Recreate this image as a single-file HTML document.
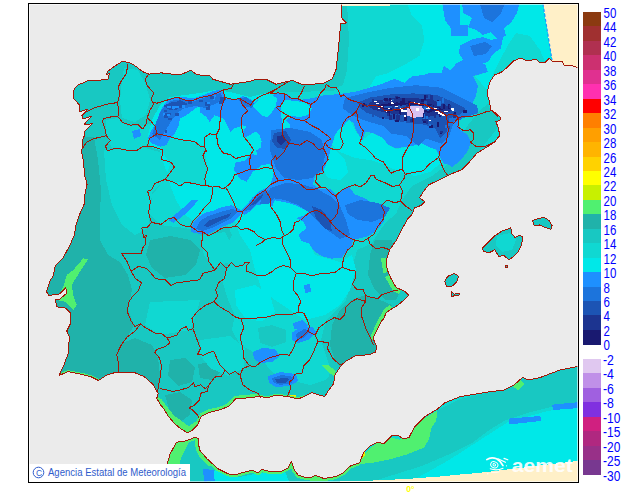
<!DOCTYPE html>
<html><head><meta charset="utf-8"><title>Temperatura</title>
<style>html,body{margin:0;padding:0;background:#fff;width:630px;height:500px;overflow:hidden;font-family:"Liberation Sans",sans-serif}</style>
</head><body>
<svg width="630" height="500" viewBox="0 0 630 500" style="position:absolute;left:0;top:0">
<defs><clipPath id="land">
<polygon points="342.0,4.0 341.3,17.5 346.5,23.0 340.9,23.6 340.6,25.0 339.4,38.0 336.8,63.5 335.9,70.3 332.0,79.2 324.4,83.0 311.7,84.3 301.6,84.3 292.7,80.5 286.3,81.7 276.2,84.3 266.0,79.2 257.1,79.2 248.3,81.7 230.5,84.3 212.7,79.2 209.8,75.4 197.1,74.9 190.8,70.3 181.9,74.1 171.7,74.1 161.6,72.9 148.9,74.1 142.5,71.6 136.2,66.5 129.8,62.7 122.2,61.4 115.0,66.0 108.0,71.0 106.0,75.0 109.5,73.5 108.0,79.0 101.0,80.0 95.0,81.0 89.0,80.0 85.0,82.0 78.0,85.0 75.0,88.0 73.0,92.0 73.0,98.0 77.0,102.0 80.0,106.0 79.0,112.0 83.5,110.5 88.0,109.0 82.5,115.0 83.0,119.0 87.5,117.5 92.0,116.0 86.0,122.0 84.0,125.0 88.5,124.5 93.0,123.0 87.0,129.0 84.0,132.0 85.0,134.0 83.0,139.0 82.0,149.0 81.6,151.6 83.3,160.0 84.6,175.2 87.1,184.1 84.6,195.6 84.6,203.2 79.5,214.6 75.7,226.0 74.4,234.9 69.4,246.3 63.0,257.8 55.4,265.4 52.9,276.8 50.3,280.2 46.5,291.6 49.0,295.4 59.2,294.1 65.6,287.8 67.0,293.0 60.0,299.0 55.5,300.0 56.7,306.8 65.6,308.1 70.6,313.2 70.6,323.3 66.8,331.0 69.4,337.3 68.1,353.8 64.3,364.0 59.2,375.4 68.1,371.6 80.8,374.1 91.0,376.7 98.6,380.5 106.2,375.4 113.8,372.9 120.2,372.4 134.1,372.4 144.3,376.7 153.0,384.4 158.1,393.3 156.8,398.4 160.6,404.8 164.4,409.8 168.3,416.2 174.6,423.8 181.0,428.9 187.3,432.7 192.4,430.2 197.5,425.1 201.3,416.2 208.9,412.4 220.3,409.8 229.2,406.0 235.6,398.9 247.0,397.9 259.7,396.4 267.6,397.8 275.2,395.2 288.0,396.5 298.0,399.0 304.4,396.5 312.0,392.7 319.7,395.2 324.8,396.5 328.6,390.2 333.6,383.8 334.9,374.9 340.0,367.3 346.3,361.0 355.2,355.9 369.2,354.6 375.6,352.0 376.8,347.0 373.0,338.1 378.1,327.9 381.9,320.3 383.5,319.4 386.0,313.0 391.1,309.2 397.5,305.4 403.8,300.3 408.9,295.2 405.1,291.4 396.2,287.6 391.1,278.7 387.3,269.8 386.0,261.0 389.8,249.5 396.2,240.6 401.3,230.5 407.6,219.0 412.0,214.3 414.6,207.9 421.0,205.4 424.8,201.6 419.7,197.8 423.5,191.4 428.6,185.0 438.7,180.0 448.9,174.9 461.6,169.8 469.2,162.2 476.8,153.3 487.0,147.0 494.6,141.9 499.7,135.6 498.4,127.9 495.9,121.6 499.7,120.3 501.0,117.8 497.1,114.0 490.8,110.2 489.5,101.6 487.0,94.0 489.5,82.5 494.6,74.9 501.0,72.4 507.3,67.3 513.6,61.0 520.0,57.9 526.3,60.4 536.5,59.7 539.0,62.2 545.4,62.2 549.2,58.4 551.7,61.0 561.9,61.0 564.4,65.5 572.0,65.5 580.0,68.6 580.0,2.0 342.0,2.0"/>
<polygon points="160.0,485.0 167.0,465.0 170.2,453.7 176.5,442.3 185.4,441.0 195.6,437.2 198.1,438.5 199.4,449.9 207.0,458.8 218.4,469.0 228.6,474.0 236.2,474.6 246.3,471.5 252.7,470.2 257.8,472.8 261.6,469.5 271.7,472.0 281.9,471.0 288.3,467.7 291.3,461.3 294.6,470.2 298.4,475.3 307.3,477.9 310.2,477.9 315.2,475.3 324.1,478.6 335.6,476.6 343.2,472.8 349.5,466.4 359.7,462.6 363.5,452.5 369.8,446.1 377.5,442.3 383.8,443.6 391.4,436.0 397.8,435.4 404.1,439.0 409.2,437.2 414.3,427.1 424.4,416.9 437.1,409.3 444.8,402.9 447.6,401.7 460.3,396.6 475.6,394.0 490.8,391.5 503.5,390.2 513.7,385.2 522.5,377.5 528.9,380.0 540.3,377.5 546.7,375.0 560.0,370.0 580.0,366.0 580.0,485.0"/>
<polygon points="482.2,248.4 488.6,242.1 494.9,235.7 502.5,230.6 507.6,229.4 510.9,227.6 511.4,233.2 515.2,237.7 519.0,235.2 522.9,237.0 521.6,244.6 517.8,252.2 512.7,257.3 508.9,259.8 503.8,255.5 498.7,256.5 494.9,249.7 488.6,253.0 483.5,251.0"/>
<polygon points="532.5,220.5 539.4,218.4 544.4,217.4 549.5,221.0 552.1,225.6 550.8,229.4 545.7,227.6 539.4,225.0 534.3,225.6"/>
<polygon points="444.6,281.4 447.9,276.3 454.3,273.3 458.6,276.3 456.8,281.9 451.7,286.5 446.7,286.5"/>
<polygon points="451.7,291.6 454.3,294.1 459.4,293.6 459.4,295.0 453.5,296.0 451.7,296.7"/>
<polygon points="505.5,265.5 507.2,265.5 507.2,267.2 505.5,267.2"/>
</clipPath><clipPath id="frame"><rect x="29" y="4" width="549" height="478"/></clipPath></defs>
<rect x="0" y="0" width="630" height="500" fill="#ffffff"/>
<rect x="28.5" y="3.5" width="550" height="479" fill="#ebebeb" stroke="#000" stroke-width="1"/>
<g clip-path="url(#frame)">
<g clip-path="url(#land)" shape-rendering="crispEdges">
<rect x="29" y="4" width="549" height="478" fill="#10d8d2"/>
<polygon points="60.0,50.0 345.0,50.0 345.0,90.0 300.0,92.0 270.0,92.0 250.0,97.0 230.0,92.0 215.0,90.0 200.0,93.0 185.0,95.0 170.0,97.0 160.0,105.0 152.0,120.0 148.0,135.0 150.0,147.0 160.0,150.0 163.0,162.0 168.0,175.0 160.0,185.0 152.0,195.0 150.0,215.0 160.0,225.0 185.0,228.0 200.0,232.0 215.0,228.0 228.0,226.0 232.0,235.0 225.0,250.0 228.0,265.0 222.0,280.0 228.0,300.0 235.0,315.0 232.0,330.0 240.0,345.0 250.0,350.0 262.0,360.0 272.0,372.0 290.0,380.0 310.0,385.0 325.0,380.0 335.0,370.0 330.0,400.0 150.0,440.0 40.0,400.0 40.0,50.0" fill="#18c8c2" />
<polygon points="500.0,95.0 480.0,110.0 468.0,125.0 458.0,140.0 447.0,165.0 432.0,176.0 412.0,186.0 402.0,200.0 396.0,214.0 386.0,222.0 379.0,232.0 371.0,244.0 357.0,250.0 353.0,265.0 351.0,285.0 346.0,300.0 336.0,310.0 326.0,320.0 321.0,340.0 326.0,355.0 331.0,370.0 326.0,385.0 321.0,400.0 420.0,400.0 420.0,300.0 440.0,200.0 520.0,100.0" fill="#18c8c2" />
<polygon points="335.0,2.0 406.7,2.0 411.7,15.0 421.9,25.4 424.4,40.6 419.4,55.9 406.7,63.5 396.5,68.6 386.3,73.7 376.2,76.2 366.0,83.8 358.4,86.4 345.0,92.0 335.0,92.0" fill="#10d8d2" />
<polygon points="516.0,33.0 526.3,30.5 536.5,35.6 544.0,45.7 552.0,62.0 536.5,62.0 521.3,60.0 513.7,63.0 507.3,69.0 501.0,74.0 494.6,77.0 490.0,85.0 486.0,95.0 490.0,110.0 500.0,120.0 494.0,100.0 492.0,85.0 498.4,63.5 506.0,50.8 511.0,40.6" fill="#10d8d2" />
<polygon points="322.1,488.0 361.7,460.2 373.7,458.3 389.5,454.3 405.4,448.3 421.3,442.4 427.2,434.4 429.2,424.5 435.2,418.6 437.1,410.6 461.0,398.7 488.7,392.8 516.5,380.9 552.2,369.0 584.0,363.0 584.0,402.7 552.2,406.7 528.4,412.6 504.6,420.6 488.7,430.5 472.9,442.4 449.0,454.3 421.3,466.2 389.5,476.1 353.8,488.0" fill="#18c8c2" />
<polygon points="165.0,483.0 170.0,453.0 176.0,441.0 198.0,436.0 201.0,450.0 208.0,459.0 219.0,470.0 237.0,476.0 262.0,471.0 290.0,468.0 292.0,460.0 296.0,472.0 300.0,478.0 330.0,480.0 330.0,485.0 160.0,485.0" fill="#18c8c2" />
<polygon points="124.0,68.0 138.0,70.0 146.0,85.0 150.0,100.0 146.0,115.0 135.0,122.0 122.0,118.0 120.0,100.0 122.0,80.0" fill="#10d8d2" />
<polygon points="106.0,120.0 118.0,118.0 128.0,126.0 140.0,126.0 150.0,124.0 154.0,134.0 146.0,146.0 130.0,150.0 112.0,148.0 106.0,135.0" fill="#10d8d2" />
<polygon points="104.0,150.0 145.0,148.0 160.0,152.0 165.0,165.0 170.0,172.0 162.0,182.0 152.0,192.0 150.0,215.0 148.0,228.0 135.0,235.0 122.0,225.0 112.0,205.0 106.0,180.0" fill="#10d8d2" />
<polygon points="440.0,210.0 560.0,210.0 560.0,300.0 440.0,300.0" fill="#18c8c2" />
<polygon points="497.0,236.0 510.0,233.0 516.0,240.0 512.0,250.0 502.0,252.0 496.0,245.0" fill="#10d8d2" />
<polygon points="40.0,137.0 94.0,137.0 98.0,160.0 101.0,190.0 100.0,215.0 100.0,240.0 108.0,255.0 120.0,262.0 128.0,275.0 132.0,290.0 128.0,310.0 134.0,325.0 128.0,336.0 120.0,346.0 117.0,357.0 121.0,375.0 110.0,385.0 40.0,385.0" fill="#20b2aa" />
<polygon points="150.0,240.0 170.0,236.0 190.0,240.0 200.0,250.0 196.0,265.0 185.0,275.0 165.0,278.0 152.0,268.0 146.0,255.0" fill="#20b2aa" />
<polygon points="118.0,345.0 135.0,338.0 152.0,345.0 158.0,358.0 160.0,375.0 157.0,392.0 140.0,380.0 118.0,375.0" fill="#20b2aa" />
<polygon points="170.0,360.0 185.0,358.0 195.0,368.0 192.0,382.0 178.0,386.0 168.0,376.0" fill="#20b2aa" />
<polygon points="198.0,364.0 212.0,362.0 220.0,372.0 212.0,380.0 200.0,378.0" fill="#20b2aa" />
<polygon points="165.0,395.0 180.0,392.0 192.0,400.0 190.0,415.0 180.0,422.0 170.0,412.0" fill="#20b2aa" />
<polygon points="352.0,300.0 365.0,295.0 380.0,300.0 392.0,305.0 386.0,320.0 379.0,335.0 379.0,350.0 365.0,357.0 350.0,359.0 340.0,367.0 335.0,360.0 330.0,345.0 332.0,325.0 340.0,310.0" fill="#20b2aa" />
<polygon points="375.0,240.0 392.0,240.0 394.0,250.0 389.0,262.0 391.0,280.0 401.0,290.0 396.0,300.0 385.0,300.0 375.0,290.0 368.0,275.0 370.0,255.0" fill="#20b2aa" />
<polygon points="335.0,2.0 347.0,2.0 349.0,40.0 347.0,70.0 343.0,85.0 335.0,88.0" fill="#18c8c2" />
<polygon points="170.0,97.0 185.0,95.0 200.0,93.0 215.0,90.0 230.0,92.0 250.0,97.0 270.0,92.0 300.0,100.0 300.0,200.0 290.0,215.0 260.0,205.0 245.0,212.0 232.0,217.0 215.0,228.0 200.0,232.0 195.0,222.0 185.0,215.0 176.0,200.0 170.0,185.0 168.0,175.0 163.0,162.0 160.0,150.0 150.0,147.0 148.0,135.0 152.0,120.0 160.0,105.0" fill="#00e8e8" />
<polygon points="156.0,136.0 185.0,141.0 204.0,146.0 207.0,165.0 205.0,185.0 185.0,183.0 165.0,180.0 170.0,165.0 162.0,150.0" fill="#10d8d2" />
<polygon points="132.0,131.0 140.0,129.0 141.0,136.0 134.0,139.0" fill="#1e90ff" />
<polygon points="245.0,205.0 270.0,200.0 300.0,205.0 310.0,215.0 305.0,235.0 315.0,255.0 340.0,262.0 352.0,255.0 356.0,270.0 350.0,290.0 340.0,305.0 325.0,315.0 305.0,320.0 290.0,310.0 275.0,300.0 262.0,290.0 255.0,270.0 250.0,250.0 240.0,235.0 235.0,220.0" fill="#00e8e8" />
<polygon points="200.0,236.0 225.0,232.0 232.0,245.0 228.0,262.0 215.0,268.0 204.0,255.0" fill="#10d8d2" />
<polygon points="235.0,290.0 255.0,285.0 270.0,295.0 275.0,312.0 262.0,322.0 245.0,318.0 236.0,305.0" fill="#00e8e8" />
<polygon points="250.0,325.0 270.0,318.0 290.0,322.0 305.0,330.0 312.0,345.0 300.0,358.0 282.0,362.0 262.0,358.0 250.0,345.0" fill="#10d8d2" />
<polygon points="258.0,328.0 272.0,325.0 286.0,330.0 286.0,342.0 272.0,347.0 260.0,343.0" fill="#18c8c2" />
<polygon points="150.0,302.0 200.0,300.0 196.0,315.0 190.0,330.0 160.0,335.0 145.0,325.0" fill="#10d8d2" />
<polygon points="200.0,340.0 230.0,336.0 245.0,348.0 244.0,368.0 228.0,376.0 210.0,368.0 200.0,355.0" fill="#10d8d2" />
<polygon points="338.0,128.0 350.0,120.0 356.0,132.0 362.0,140.0 372.0,133.0 383.0,138.0 388.0,145.0 396.0,149.0 413.0,146.0 421.0,143.0 436.0,150.0 442.0,162.0 430.0,172.0 415.0,176.0 400.0,172.0 385.0,165.0 370.0,160.0 355.0,158.0 340.0,152.0 332.0,145.0" fill="#00e8e8" />
<polygon points="325.0,150.0 335.0,150.0 345.0,160.0 348.0,172.0 340.0,180.0 328.0,178.0 322.0,168.0" fill="#00e8e8" />
<polygon points="406.7,2.0 545.0,2.0 552.0,62.0 545.0,62.0 540.0,50.0 530.0,36.0 516.0,33.0 508.0,45.0 500.0,60.0 492.0,76.0 487.0,90.0 475.0,76.0 488.0,72.0 485.0,64.0 470.0,62.0 456.0,64.0 450.0,70.0 444.0,66.0 441.6,72.5 422.2,75.1 412.1,76.3 404.4,82.7 394.3,78.9 381.6,84.0 368.9,87.8 376.2,76.2 386.3,73.7 396.5,68.6 406.7,63.5 419.4,55.9 424.4,40.6 421.9,25.4 411.7,15.0" fill="#00e8e8" />
<polygon points="582.0,404.0 544.0,412.0 508.0,422.0 480.0,440.0 449.0,460.0 417.0,478.0 400.0,485.0 582.0,485.0" fill="#00e8e8" />
<polygon points="215.0,470.0 240.0,477.0 260.0,473.0 285.0,472.0 290.0,483.0 210.0,483.0" fill="#00e8e8" />
<polygon points="147.7,138.3 151.7,130.0 156.7,121.7 160.0,111.7 165.0,103.3 170.0,98.3 180.0,96.7 193.3,98.3 203.3,95.0 211.7,91.7 220.0,89.5 224.0,93.0 224.0,99.0 238.0,99.0 243.0,96.0 250.0,99.0 254.0,103.0 258.0,100.0 264.0,97.0 272.0,95.0 278.0,93.0 287.0,94.0 292.0,98.0 300.0,100.0 313.0,98.0 323.2,95.4 338.4,94.1 356.2,91.6 368.9,87.8 381.6,84.0 394.3,78.9 404.4,82.7 412.1,76.3 422.2,75.1 432.4,72.5 441.6,72.5 444.0,66.0 450.0,70.0 456.0,64.0 470.0,62.0 485.0,64.0 488.0,72.0 473.0,76.0 478.0,86.0 475.6,96.5 470.5,106.7 472.0,112.0 462.0,116.0 458.0,122.0 459.0,129.0 467.4,134.5 471.2,142.1 467.4,151.7 459.8,161.2 452.1,166.9 446.4,163.5 443.8,163.5 438.7,154.6 436.2,149.5 428.6,147.0 421.0,143.2 413.3,145.7 404.4,147.0 395.6,148.3 387.9,144.4 382.9,138.1 372.7,133.0 365.1,131.7 362.5,139.8 356.2,131.0 353.7,123.3 348.6,119.5 343.5,125.9 338.4,129.7 334.6,136.0 330.8,148.7 328.3,158.9 323.2,171.6 315.6,174.1 313.0,184.3 320.6,189.4 330.0,188.6 335.7,194.3 341.4,190.5 349.0,186.7 354.8,194.3 364.3,198.1 373.8,203.8 377.6,209.5 383.3,215.2 384.3,221.0 379.5,226.7 373.8,232.4 368.1,236.2 360.5,238.1 352.9,240.0 351.0,247.6 347.0,251.0 341.9,257.5 331.7,258.7 321.6,256.2 314.0,251.0 308.9,243.5 301.3,241.0 298.7,234.6 306.3,228.3 303.8,221.9 296.2,218.1 303.8,215.6 308.9,211.7 303.8,209.2 296.2,205.4 288.6,202.9 281.0,201.6 274.6,200.3 272.1,206.7 269.5,201.6 263.2,204.1 256.2,205.2 250.5,211.0 244.8,214.8 241.0,212.9 239.0,216.7 233.3,222.4 223.8,226.2 216.2,230.0 208.6,233.8 199.0,233.8 190.5,231.9 193.3,222.4 199.0,216.7 204.8,212.9 212.4,211.0 221.9,207.1 231.4,205.2 235.2,207.1 241.0,210.0 246.7,205.2 252.4,197.6 260.0,191.0 269.8,185.9 272.1,179.2 274.6,169.0 269.5,164.0 261.9,165.2 253.0,171.6 246.7,181.7 240.3,179.2 234.0,170.3 235.2,162.7 244.0,161.0 252.0,154.0 257.6,155.4 256.0,150.6 260.8,147.4 261.6,141.0 259.2,134.6 256.0,131.4 252.8,133.0 248.0,136.2 244.0,137.8 243.2,131.4 246.4,126.6 240.8,125.0 240.0,126.6 234.4,128.2 230.4,132.2 227.2,125.0 224.0,119.4 220.0,117.0 219.2,117.0 214.4,115.4 209.6,121.8 206.4,117.0 200.0,112.2 200.0,105.0 193.3,110.0 186.7,115.0 180.0,118.3 178.3,126.7 175.0,133.3 170.0,138.3 166.7,145.0 160.0,146.7 151.7,143.3" fill="#1e90ff" />
<polygon points="252.8,105.8 258.0,100.0 264.0,97.0 272.0,95.0 277.0,98.0 276.0,106.0 272.0,112.0 268.0,117.0 262.0,116.0 258.0,112.0" fill="#00e8e8" />
<polygon points="281.0,104.0 286.0,100.0 296.0,101.0 306.0,103.0 312.0,108.0 308.0,115.0 300.0,117.0 292.0,116.0 286.0,120.0 290.0,125.0 292.0,135.0 288.0,139.0 283.0,135.0 282.0,122.0 281.0,114.0" fill="#00e8e8" />
<polygon points="168.3,220.0 176.7,213.3 186.7,205.0 191.7,200.0 198.3,200.0 190.0,210.0 180.0,218.3 173.3,222.7" fill="#1e90ff" />
<polygon points="462.0,2.0 520.0,2.0 517.0,12.7 511.0,22.9 504.0,27.9 506.0,35.6 497.0,39.0 490.8,32.0 483.2,35.0 476.0,30.0 468.0,27.0 472.0,17.8 463.0,12.7" fill="#1e90ff" />
<polygon points="460.0,45.7 473.0,39.0 483.2,37.0 490.8,40.0 503.0,37.0 501.0,48.3 493.0,54.0 488.0,62.0 478.0,65.0 468.0,68.0 457.8,70.0 454.0,64.8 463.0,59.7 459.0,53.3" fill="#1e90ff" />
<polygon points="451.4,25.4 468.0,25.4 468.0,35.6 451.4,35.6" fill="#1e90ff" />
<polygon points="442.0,2.0 460.0,2.0 460.0,33.0 452.0,30.0 445.0,20.0" fill="#1e90ff" />
<polygon points="480.0,4.0 505.0,4.0 500.0,15.0 492.0,22.0 484.0,18.0" fill="#1c74dc" />
<polygon points="470.0,46.0 485.0,42.0 492.0,46.0 486.0,54.0 474.0,56.0" fill="#1c74dc" />
<polygon points="291.7,333.0 300.0,327.0 312.0,326.7 316.7,332.0 308.0,340.0 298.0,343.3 292.0,340.0" fill="#1e90ff" />
<polygon points="296.0,334.0 304.0,329.0 310.0,331.0 304.0,338.0 297.0,340.0" fill="#1c74dc" />
<polygon points="253.0,352.0 262.0,348.0 275.0,349.0 280.0,356.0 272.0,362.0 260.0,363.0 254.0,359.0" fill="#1e90ff" />
<polygon points="268.0,376.0 280.0,372.0 296.0,374.0 298.0,381.0 290.0,386.0 276.0,387.0 269.0,383.0" fill="#1e90ff" />
<polygon points="272.0,378.0 282.0,375.0 294.0,377.0 292.0,383.0 280.0,385.0 273.0,382.0" fill="#1c74dc" />
<polygon points="275.0,379.5 284.0,377.5 290.0,379.0 286.0,382.5 277.0,382.5" fill="#1c54b4" />
<polygon points="293.0,323.0 302.0,320.0 308.0,326.0 300.0,330.0 294.0,329.0" fill="#1e90ff" />
<polygon points="304.0,285.0 310.0,284.0 311.0,292.0 305.0,293.0" fill="#1e90ff" />
<polygon points="508.6,418.6 540.3,416.0 541.0,421.0 509.0,424.5" fill="#1e90ff" />
<polygon points="552.0,404.7 580.0,402.0 580.0,408.0 553.0,410.0" fill="#1e90ff" />
<polygon points="203.0,469.0 214.0,470.0 214.6,481.0 204.0,481.7" fill="#1e90ff" />
<polygon points="152.0,134.0 157.0,120.0 162.0,109.0 170.0,101.0 182.0,99.0 192.0,102.0 203.0,98.0 212.0,95.0 221.0,93.0 223.0,100.0 215.0,104.0 205.0,108.0 195.0,106.0 185.0,108.0 178.0,112.0 172.0,120.0 166.0,130.0 160.0,140.0" fill="#1c74dc" />
<polygon points="163.0,106.0 172.0,102.0 182.0,101.0 188.0,104.0 180.0,108.0 170.0,110.0" fill="#1c54b4" />
<polygon points="238.0,99.0 246.0,97.0 254.0,103.0 252.0,108.0 244.0,106.0" fill="#1c74dc" />
<polygon points="271.0,130.0 290.0,128.0 310.0,132.0 322.0,140.0 325.0,156.0 322.0,170.0 312.0,178.0 298.0,180.0 284.0,178.0 276.0,168.0 270.0,150.0" fill="#1c74dc" />
<polygon points="274.0,133.0 286.0,131.0 291.0,140.0 286.0,149.0 277.0,148.0 272.0,141.0" fill="#1c54b4" />
<polygon points="277.0,136.0 284.0,135.0 286.0,141.0 281.0,145.0 277.0,142.0" fill="#1c3490" />
<polygon points="270.0,188.0 285.0,183.0 300.0,184.0 315.0,188.0 330.0,196.0 340.0,206.0 346.0,220.0 350.0,235.0 340.0,239.0 330.0,232.0 320.0,224.0 310.0,213.0 298.0,205.0 285.0,200.0 272.0,198.0" fill="#1c74dc" />
<polygon points="311.7,206.0 322.0,210.0 330.0,220.0 332.0,231.6 324.0,228.0 316.0,218.0" fill="#1c54b4" />
<polygon points="262.0,196.0 270.0,190.0 276.0,196.0 268.0,204.0 260.0,204.0" fill="#1c74dc" />
<polygon points="196.0,229.0 200.0,221.0 208.0,216.0 220.0,212.0 232.0,209.0 238.0,211.0 232.0,218.0 222.0,223.0 212.0,228.0 202.0,231.0" fill="#1c74dc" />
<polygon points="203.0,226.0 210.0,220.0 222.0,216.0 231.0,213.0 229.0,217.0 218.0,222.0 208.0,227.0" fill="#1c54b4" />
<polygon points="244.0,211.0 249.0,204.0 255.0,197.0 262.0,192.0 268.0,190.0 266.0,196.0 258.0,202.0 250.0,210.0" fill="#1c74dc" />
<polygon points="250.0,206.0 256.0,199.0 263.0,194.0 262.0,198.0 255.0,204.0" fill="#1c54b4" />
<polygon points="345.0,205.0 360.0,200.0 378.0,203.0 390.0,208.0 385.0,217.0 372.0,222.0 358.0,220.0 348.0,214.0" fill="#1c74dc" />
<polygon points="345.1,97.9 365.4,92.9 390.8,87.8 416.2,85.2 441.6,87.8 461.9,97.9 477.1,105.6 478.4,113.2 467.0,117.0 454.3,120.8 449.2,136.0 441.6,143.7 426.3,138.6 418.7,146.2 406.0,136.0 390.8,133.5 383.2,125.9 365.4,120.8 352.7,115.7 342.5,108.1" fill="#1c74dc" />
<polygon points="357.8,102.5 370.5,97.4 390.8,94.4 413.7,93.4 436.5,94.9 454.3,102.5 465.7,108.1 460.6,114.4 449.2,118.3 446.7,132.2 440.3,138.1 435.2,128.4 423.8,124.6 411.1,123.3 395.9,120.8 380.6,117.7 366.7,112.7 359.8,107.6" fill="#1c54b4" />
<polygon points="369.2,103.0 375.6,100.5 390.8,98.4 411.1,97.9 431.4,99.5 446.7,105.6 453.0,108.6 449.2,112.2 441.6,114.7 428.9,116.7 416.2,115.7 401.0,115.2 385.7,112.7 373.5,109.6 368.4,106.1" fill="#1c3490" />
<polygon points="378.1,105.0 390.8,103.0 411.1,102.5 428.9,103.5 440.3,107.6 442.9,109.6 437.8,111.1 426.3,111.9 411.1,111.4 395.9,110.6 384.4,108.9 378.6,107.1" fill="#191970" />
<polygon points="383.2,105.8 398.4,105.3 416.2,105.3 431.4,106.3 439.0,108.6 428.9,109.6 411.1,109.4 395.9,108.9 384.4,107.8" fill="#1c54b4" />
<polygon points="406.5,108.1 412.4,105.6 421.3,106.1 424.3,110.6 422.5,117.0 413.7,117.7 407.3,115.7" fill="#d8c0f0" />
<polygon points="375.6,102.5 379.1,102.5 379.1,103.8 375.6,103.8" fill="#ffffff" />
<polygon points="380.6,105.6 383.2,105.6 383.2,106.8 380.6,106.8" fill="#ffffff" />
<polygon points="390.8,101.5 393.3,101.5 393.3,103.5 390.8,103.5" fill="#ffffff" />
<polygon points="394.6,105.6 397.7,105.6 397.7,106.8 394.6,106.8" fill="#ffffff" />
<polygon points="388.3,108.1 390.3,108.1 390.3,109.4 388.3,109.4" fill="#ffffff" />
<polygon points="401.0,109.6 406.5,109.6 406.5,111.7 401.0,111.7" fill="#ffffff" />
<polygon points="416.2,102.5 420.3,102.5 420.3,103.8 416.2,103.8" fill="#ffffff" />
<polygon points="427.6,106.1 430.2,106.1 430.2,108.6 427.6,108.6" fill="#ffffff" />
<polygon points="434.5,110.6 438.0,110.6 438.0,111.9 434.5,111.9" fill="#ffffff" />
<polygon points="439.6,112.7 441.6,112.7 441.6,114.7 439.6,114.7" fill="#ffffff" />
<polygon points="444.1,110.6 447.7,110.6 447.7,111.9 444.1,111.9" fill="#ffffff" />
<polygon points="451.7,109.4 454.3,109.4 454.3,110.6 451.7,110.6" fill="#ffffff" />
<polygon points="403.5,115.2 406.0,115.2 406.0,116.5 403.5,116.5" fill="#ffffff" />
<polygon points="374.3,100.5 376.8,100.5 376.8,102.0 374.3,102.0" fill="#ffffff" />
<polygon points="378.1,108.1 380.1,108.1 380.1,109.4 378.1,109.4" fill="#ffffff" />
<polygon points="389.5,100.0 392.6,100.0 392.6,101.2 389.5,101.2" fill="#ffffff" />
<polygon points="392.1,103.0 394.1,103.0 394.1,104.3 392.1,104.3" fill="#ffffff" />
<polygon points="385.7,110.6 387.2,110.6 387.2,111.9 385.7,111.9" fill="#ffffff" />
<polygon points="399.7,108.1 406.0,108.1 406.0,109.6 399.7,109.6" fill="#ffffff" />
<polygon points="409.8,101.7 414.9,101.7 414.9,103.0 409.8,103.0" fill="#ffffff" />
<polygon points="397.1,117.0 400.2,117.0 400.2,118.3 397.1,118.3" fill="#ffffff" />
<polygon points="404.8,119.5 406.8,119.5 406.8,121.0 404.8,121.0" fill="#ffffff" />
<polygon points="426.3,108.1 429.4,108.1 429.4,109.4 426.3,109.4" fill="#ffffff" />
<polygon points="432.7,108.1 437.3,108.1 437.3,109.4 432.7,109.4" fill="#ffffff" />
<polygon points="437.8,110.6 440.3,110.6 440.3,114.2 437.8,114.2" fill="#ffffff" />
<polygon points="441.6,114.4 445.1,114.4 445.1,116.0 441.6,116.0" fill="#ffffff" />
<polygon points="450.5,108.1 454.0,108.1 454.0,109.6 450.5,109.6" fill="#ffffff" />
<polygon points="428.9,119.5 430.9,119.5 430.9,120.8 428.9,120.8" fill="#ffffff" />
<polygon points="416.2,108.1 418.7,108.1 418.7,111.1 416.2,111.1" fill="#ffffff" />
<polygon points="157.6,397.1 161.9,399.7 168.3,408.6 174.6,416.2 182.2,421.3 188.6,426.3 196.2,421.3 198.7,416.2 200.8,416.2 197.5,425.1 192.4,430.2 187.3,432.7 181.0,428.9 174.6,423.8 168.3,416.2 164.4,409.8 160.6,404.8 156.8,398.4" fill="#50f070" />
<polygon points="88.3,259.3 83.3,258.3 73.3,270.0 66.7,275.0 63.3,286.7 56.7,300.0 65.0,301.7 73.3,310.0 76.7,305.0 73.3,295.0 71.7,285.0 80.0,271.7" fill="#50f070" />
<polygon points="321.0,365.0 328.0,365.0 336.0,371.0 334.0,376.0 328.0,372.0" fill="#50f070" />
<polygon points="357.8,464.2 367.7,450.3 377.6,442.4 389.5,437.2 399.4,439.6 409.4,434.4 415.3,424.5 427.2,416.6 437.1,410.6 436.3,420.6 431.2,428.5 429.2,438.4 424.4,447.5 407.4,454.3 389.5,459.4 373.7,462.6" fill="#50f070" />
<polygon points="512.0,386.0 520.0,380.0 524.0,384.0 518.0,390.0" fill="#50f070" />
<polygon points="228.0,406.0 232.0,399.0 240.0,395.0 250.0,395.0 258.0,396.0 258.0,399.0 236.0,400.0" fill="#50f070" />
<polygon points="165.0,483.0 170.2,453.7 176.5,442.3 185.4,441.0 190.0,440.0 186.0,448.0 181.0,458.0 178.0,470.0 176.0,483.0" fill="#50f070" />
<polygon points="194.0,437.0 198.5,437.0 200.0,450.0 207.0,458.8 214.0,466.0 208.0,466.0 200.0,458.0 196.0,450.0" fill="#50f070" />
<polygon points="237.0,396.5 247.0,396.0 247.0,398.5 238.0,399.0" fill="#e8f000" />
<polygon points="289.0,395.0 296.0,395.5 296.0,399.0 290.0,398.0" fill="#e8f000" />
<polygon points="290.0,463.0 292.5,464.0 293.0,469.0 290.5,468.0" fill="#e8f000" />
<polygon points="361.0,452.0 364.5,449.0 365.0,455.0 362.0,458.0" fill="#e8f000" />
<polygon points="391.6,98.9 393.6,98.9 393.6,100.9 391.6,100.9" fill="#1c54b4" />
<polygon points="382.2,117.3 384.2,117.3 384.2,119.3 382.2,119.3" fill="#191970" />
<polygon points="426.3,118.8 428.3,118.8 428.3,123.8 426.3,123.8" fill="#1c3490" />
<polygon points="452.0,105.3 454.0,105.3 454.0,107.3 452.0,107.3" fill="#1c54b4" />
<polygon points="427.2,109.1 429.2,109.1 429.2,111.1 427.2,111.1" fill="#1c54b4" />
<polygon points="403.3,106.5 407.3,106.5 407.3,109.5 403.3,109.5" fill="#1c3490" />
<polygon points="383.1,100.3 385.1,100.3 385.1,102.3 383.1,102.3" fill="#1c54b4" />
<polygon points="388.9,114.8 391.9,114.8 391.9,119.8 388.9,119.8" fill="#1c3490" />
<polygon points="423.8,95.4 427.8,95.4 427.8,98.4 423.8,98.4" fill="#1c3490" />
<polygon points="372.2,114.5 374.2,114.5 374.2,116.5 372.2,116.5" fill="#1c54b4" />
<polygon points="422.2,118.7 426.2,118.7 426.2,120.7 422.2,120.7" fill="#1c3490" />
<polygon points="430.0,94.8 433.0,94.8 433.0,99.8 430.0,99.8" fill="#1c3490" />
<polygon points="395.2,120.1 399.2,120.1 399.2,122.1 395.2,122.1" fill="#191970" />
<polygon points="441.8,97.9 443.8,97.9 443.8,102.9 441.8,102.9" fill="#1c74dc" />
<polygon points="458.6,114.8 460.6,114.8 460.6,119.8 458.6,119.8" fill="#1c74dc" />
<polygon points="386.5,111.1 389.5,111.1 389.5,116.1 386.5,116.1" fill="#191970" />
<polygon points="372.1,100.1 374.1,100.1 374.1,103.1 372.1,103.1" fill="#1c3490" />
<polygon points="409.8,119.1 412.8,119.1 412.8,122.1 409.8,122.1" fill="#1c3490" />
<polygon points="423.9,106.7 425.9,106.7 425.9,108.7 423.9,108.7" fill="#1c74dc" />
<polygon points="399.3,110.4 401.3,110.4 401.3,115.4 399.3,115.4" fill="#191970" />
<polygon points="400.3,100.8 402.3,100.8 402.3,105.8 400.3,105.8" fill="#191970" />
<polygon points="424.4,95.2 426.4,95.2 426.4,100.2 424.4,100.2" fill="#191970" />
<polygon points="423.1,113.8 425.1,113.8 425.1,118.8 423.1,118.8" fill="#1c74dc" />
<polygon points="409.3,106.3 411.3,106.3 411.3,108.3 409.3,108.3" fill="#191970" />
<polygon points="393.7,104.2 395.7,104.2 395.7,106.2 393.7,106.2" fill="#191970" />
<polygon points="433.7,104.0 436.7,104.0 436.7,107.0 433.7,107.0" fill="#1c3490" />
<polygon points="442.2,116.5 445.2,116.5 445.2,119.5 442.2,119.5" fill="#1c54b4" />
<polygon points="447.5,126.0 449.5,126.0 449.5,129.0 447.5,129.0" fill="#1c54b4" />
<polygon points="408.4,100.9 411.4,100.9 411.4,105.9 408.4,105.9" fill="#191970" />
<polygon points="396.2,102.1 398.2,102.1 398.2,107.1 396.2,107.1" fill="#191970" />
<polygon points="393.2,114.2 395.2,114.2 395.2,119.2 393.2,119.2" fill="#191970" />
<polygon points="404.0,121.2 406.0,121.2 406.0,126.2 404.0,126.2" fill="#1c74dc" />
<polygon points="436.9,99.8 438.9,99.8 438.9,101.8 436.9,101.8" fill="#191970" />
<polygon points="421.8,113.4 423.8,113.4 423.8,118.4 421.8,118.4" fill="#191970" />
<polygon points="445.3,125.4 447.3,125.4 447.3,128.4 445.3,128.4" fill="#1c74dc" />
<polygon points="379.0,115.1 382.0,115.1 382.0,118.1 379.0,118.1" fill="#1c54b4" />
<polygon points="402.3,98.0 405.3,98.0 405.3,103.0 402.3,103.0" fill="#191970" />
<polygon points="411.7,116.5 413.7,116.5 413.7,121.5 411.7,121.5" fill="#191970" />
<polygon points="371.9,98.5 373.9,98.5 373.9,100.5 371.9,100.5" fill="#1c3490" />
<polygon points="432.1,116.4 436.1,116.4 436.1,118.4 432.1,118.4" fill="#1c54b4" />
<polygon points="423.5,101.2 426.5,101.2 426.5,106.2 423.5,106.2" fill="#1c54b4" />
<polygon points="415.3,114.0 417.3,114.0 417.3,117.0 415.3,117.0" fill="#1c54b4" />
<polygon points="405.6,111.2 409.6,111.2 409.6,116.2 405.6,116.2" fill="#1c3490" />
<polygon points="363.2,103.1 365.2,103.1 365.2,106.1 363.2,106.1" fill="#191970" />
<polygon points="389.2,97.6 391.2,97.6 391.2,100.6 389.2,100.6" fill="#191970" />
<polygon points="383.6,98.3 387.6,98.3 387.6,101.3 383.6,101.3" fill="#191970" />
<polygon points="462.6,110.3 466.6,110.3 466.6,113.3 462.6,113.3" fill="#191970" />
<polygon points="403.8,115.7 406.8,115.7 406.8,120.7 403.8,120.7" fill="#191970" />
<polygon points="395.3,96.2 398.3,96.2 398.3,98.2 395.3,98.2" fill="#1c3490" />
<polygon points="417.6,112.3 419.6,112.3 419.6,117.3 417.6,117.3" fill="#1c3490" />
<polygon points="413.5,105.6 415.5,105.6 415.5,107.6 413.5,107.6" fill="#191970" />
<polygon points="443.0,104.4 445.0,104.4 445.0,109.4 443.0,109.4" fill="#191970" />
<polygon points="447.5,103.9 449.5,103.9 449.5,108.9 447.5,108.9" fill="#191970" />
<polygon points="392.0,104.8 394.0,104.8 394.0,109.8 392.0,109.8" fill="#1c3490" />
<polygon points="365.0,104.0 367.0,104.0 367.0,106.0 365.0,106.0" fill="#1c3490" />
<polygon points="452.5,112.9 455.5,112.9 455.5,117.9 452.5,117.9" fill="#1c3490" />
<polygon points="426.0,116.4 428.0,116.4 428.0,119.4 426.0,119.4" fill="#1c74dc" />
<polygon points="411.5,100.2 414.5,100.2 414.5,102.2 411.5,102.2" fill="#1c3490" />
<polygon points="413.1,103.3 417.1,103.3 417.1,105.3 413.1,105.3" fill="#191970" />
<polygon points="447.5,111.9 451.5,111.9 451.5,116.9 447.5,116.9" fill="#1c54b4" />
<polygon points="389.8,101.9 391.8,101.9 391.8,104.9 389.8,104.9" fill="#191970" />
<polygon points="426.9,110.6 429.9,110.6 429.9,112.6 426.9,112.6" fill="#191970" />
<polygon points="454.4,111.8 456.4,111.8 456.4,113.8 454.4,113.8" fill="#191970" />
<polygon points="430.8,105.0 432.8,105.0 432.8,108.0 430.8,108.0" fill="#1c3490" />
<polygon points="406.9,99.2 410.9,99.2 410.9,101.2 406.9,101.2" fill="#1c3490" />
<polygon points="396.1,107.1 399.1,107.1 399.1,110.1 396.1,110.1" fill="#1c3490" />
<polygon points="398.1,113.8 400.1,113.8 400.1,116.8 398.1,116.8" fill="#1c54b4" />
<polygon points="421.3,110.1 424.3,110.1 424.3,113.1 421.3,113.1" fill="#191970" />
<polygon points="429.3,124.9 433.3,124.9 433.3,127.9 429.3,127.9" fill="#191970" />
<polygon points="436.8,121.6 438.8,121.6 438.8,126.6 436.8,126.6" fill="#191970" />
<polygon points="434.2,115.3 436.2,115.3 436.2,118.3 434.2,118.3" fill="#1c3490" />
<polygon points="395.8,96.8 399.8,96.8 399.8,98.8 395.8,98.8" fill="#191970" />
<polygon points="382.6,104.1 386.6,104.1 386.6,106.1 382.6,106.1" fill="#191970" />
<polygon points="439.3,113.8 441.3,113.8 441.3,116.8 439.3,116.8" fill="#191970" />
<polygon points="437.4,101.4 441.4,101.4 441.4,106.4 437.4,106.4" fill="#1c74dc" />
<polygon points="426.5,101.1 428.5,101.1 428.5,104.1 426.5,104.1" fill="#1c3490" />
<polygon points="428.6,123.9 430.6,123.9 430.6,125.9 428.6,125.9" fill="#1c74dc" />
<polygon points="361.9,104.4 363.9,104.4 363.9,107.4 361.9,107.4" fill="#191970" />
<polygon points="387.3,113.4 389.3,113.4 389.3,116.4 387.3,116.4" fill="#1c3490" />
<polygon points="405.8,104.4 407.8,104.4 407.8,107.4 405.8,107.4" fill="#1c3490" />
<polygon points="420.7,98.5 423.7,98.5 423.7,101.5 420.7,101.5" fill="#191970" />
<polygon points="423.2,121.1 426.2,121.1 426.2,123.1 423.2,123.1" fill="#191970" />
<polygon points="396.3,114.9 400.3,114.9 400.3,119.9 396.3,119.9" fill="#1c3490" />
<polygon points="432.0,110.6 434.0,110.6 434.0,115.6 432.0,115.6" fill="#1c3490" />
<polygon points="397.5,97.6 400.5,97.6 400.5,99.6 397.5,99.6" fill="#1c3490" />
<polygon points="439.8,130.6 441.8,130.6 441.8,133.6 439.8,133.6" fill="#191970" />
<polygon points="440.4,131.3 443.4,131.3 443.4,133.3 440.4,133.3" fill="#1c3490" />
<polygon points="449.3,105.1 451.3,105.1 451.3,108.1 449.3,108.1" fill="#1c3490" />
<polygon points="404.3,106.5 407.3,106.5 407.3,111.5 404.3,111.5" fill="#1c3490" />
<polygon points="446.8,121.0 448.8,121.0 448.8,123.0 446.8,123.0" fill="#1c3490" />
<polygon points="162.6,112.7 165.6,112.7 165.6,115.7 162.6,115.7" fill="#1e90ff" />
<polygon points="179.2,100.4 181.2,100.4 181.2,102.4 179.2,102.4" fill="#1c54b4" />
<polygon points="205.2,102.5 208.2,102.5 208.2,105.5 205.2,105.5" fill="#1c54b4" />
<polygon points="212.8,96.6 214.8,96.6 214.8,99.6 212.8,99.6" fill="#1e90ff" />
<polygon points="221.6,98.4 224.6,98.4 224.6,101.4 221.6,101.4" fill="#1c54b4" />
<polygon points="221.9,97.4 225.9,97.4 225.9,100.4 221.9,100.4" fill="#1c54b4" />
<polygon points="207.9,103.6 209.9,103.6 209.9,106.6 207.9,106.6" fill="#1c54b4" />
<polygon points="219.8,101.6 222.8,101.6 222.8,103.6 219.8,103.6" fill="#1c54b4" />
<polygon points="167.9,118.3 171.9,118.3 171.9,120.3 167.9,120.3" fill="#1c54b4" />
<polygon points="181.1,104.9 185.1,104.9 185.1,107.9 181.1,107.9" fill="#1e90ff" />
<polygon points="175.0,113.0 179.0,113.0 179.0,116.0 175.0,116.0" fill="#1c54b4" />
<polygon points="212.5,95.4 215.5,95.4 215.5,97.4 212.5,97.4" fill="#1e90ff" />
<polygon points="206.7,101.7 209.7,101.7 209.7,103.7 206.7,103.7" fill="#1e90ff" />
<polygon points="206.3,106.7 210.3,106.7 210.3,109.7 206.3,109.7" fill="#1c54b4" />
<polygon points="220.2,99.3 223.2,99.3 223.2,101.3 220.2,101.3" fill="#1c54b4" />
<polygon points="163.6,114.5 167.6,114.5 167.6,117.5 163.6,117.5" fill="#1c54b4" />
<polygon points="184.6,107.6 188.6,107.6 188.6,110.6 184.6,110.6" fill="#1e90ff" />
<polygon points="209.5,96.4 213.5,96.4 213.5,99.4 209.5,99.4" fill="#1c54b4" />
<polygon points="164.3,110.2 167.3,110.2 167.3,112.2 164.3,112.2" fill="#1c54b4" />
<polygon points="175.1,105.6 179.1,105.6 179.1,107.6 175.1,107.6" fill="#1e90ff" />
<polygon points="154.8,133.3 156.8,133.3 156.8,136.3 154.8,136.3" fill="#1c54b4" />
<polygon points="178.6,104.6 181.6,104.6 181.6,107.6 178.6,107.6" fill="#1c54b4" />
<polygon points="218.7,101.1 222.7,101.1 222.7,104.1 218.7,104.1" fill="#1c54b4" />
<polygon points="174.3,108.0 177.3,108.0 177.3,110.0 174.3,110.0" fill="#1c54b4" />
<polygon points="164.6,129.6 166.6,129.6 166.6,132.6 164.6,132.6" fill="#1c54b4" />
<polygon points="165.4,113.1 169.4,113.1 169.4,116.1 165.4,116.1" fill="#1c54b4" />
<polygon points="167.3,112.8 171.3,112.8 171.3,114.8 167.3,114.8" fill="#1c54b4" />
<polygon points="171.8,106.0 174.8,106.0 174.8,109.0 171.8,109.0" fill="#1e90ff" />
<polygon points="204.6,102.0 206.6,102.0 206.6,104.0 204.6,104.0" fill="#1c54b4" />
<polygon points="167.4,106.1 171.4,106.1 171.4,108.1 167.4,108.1" fill="#1e90ff" />
<polygon points="168.2,118.3 172.2,118.3 172.2,120.3 168.2,120.3" fill="#1c54b4" />
<polygon points="167.1,114.4 170.1,114.4 170.1,116.4 167.1,116.4" fill="#1e90ff" />
<polygon points="187.9,100.9 191.9,100.9 191.9,103.9 187.9,103.9" fill="#1c54b4" />
<polygon points="220.0,97.3 224.0,97.3 224.0,100.3 220.0,100.3" fill="#1c54b4" />
<polygon points="199.1,99.7 203.1,99.7 203.1,101.7 199.1,101.7" fill="#1c54b4" />
<polygon points="406.5,108.1 412.4,105.6 421.3,106.1 424.3,110.6 422.5,117.0 413.7,117.7 407.3,115.7" fill="#d8c0f0" />
<polygon points="375.6,102.5 379.1,102.5 379.1,103.8 375.6,103.8" fill="#ffffff" />
<polygon points="380.6,105.6 383.2,105.6 383.2,106.8 380.6,106.8" fill="#ffffff" />
<polygon points="390.8,101.5 393.3,101.5 393.3,103.5 390.8,103.5" fill="#ffffff" />
<polygon points="394.6,105.6 397.7,105.6 397.7,106.8 394.6,106.8" fill="#ffffff" />
<polygon points="388.3,108.1 390.3,108.1 390.3,109.4 388.3,109.4" fill="#ffffff" />
<polygon points="401.0,109.6 406.5,109.6 406.5,111.7 401.0,111.7" fill="#ffffff" />
<polygon points="416.2,102.5 420.3,102.5 420.3,103.8 416.2,103.8" fill="#ffffff" />
<polygon points="427.6,106.1 430.2,106.1 430.2,108.6 427.6,108.6" fill="#ffffff" />
<polygon points="434.5,110.6 438.0,110.6 438.0,111.9 434.5,111.9" fill="#ffffff" />
<polygon points="439.6,112.7 441.6,112.7 441.6,114.7 439.6,114.7" fill="#ffffff" />
<polygon points="444.1,110.6 447.7,110.6 447.7,111.9 444.1,111.9" fill="#ffffff" />
<polygon points="451.7,109.4 454.3,109.4 454.3,110.6 451.7,110.6" fill="#ffffff" />
<polygon points="403.5,115.2 406.0,115.2 406.0,116.5 403.5,116.5" fill="#ffffff" />
<polygon points="416.2,108.1 418.7,108.1 418.7,111.1 416.2,111.1" fill="#ffffff" />
<polygon points="409.8,101.7 414.9,101.7 414.9,103.0 409.8,103.0" fill="#ffffff" />
<polyline points="156.8,398.4 160.6,404.8 164.4,409.8 168.3,416.2 174.6,423.8 181.0,428.9 187.3,432.7 192.4,430.2 197.5,425.1 201.3,416.2" fill="none" stroke="#50f070" stroke-width="5" stroke-linejoin="round" stroke-linecap="butt"/>
<polyline points="201.3,416.2 208.9,412.4 220.3,409.8 229.2,406.0 235.6,398.9 247.0,397.9 259.7,396.4" fill="none" stroke="#50f070" stroke-width="6" stroke-linejoin="round" stroke-linecap="butt"/>
<polyline points="259.7,396.4 267.6,397.8 275.2,395.2 288.0,396.5 298.0,399.0 304.4,396.5" fill="none" stroke="#50f070" stroke-width="3" stroke-linejoin="round" stroke-linecap="butt"/>
<polyline points="373.0,340.0 378.1,327.9 381.9,320.3 387.0,311.4 392.0,308.0" fill="none" stroke="#50f070" stroke-width="7" stroke-linejoin="round" stroke-linecap="butt"/>
<polyline points="385.8,258.0 386.0,262.0 387.3,269.8 388.0,272.0" fill="none" stroke="#50f070" stroke-width="9" stroke-linejoin="round" stroke-linecap="butt"/>
<polyline points="389.0,275.0 391.1,278.7 396.2,287.6 401.0,290.0" fill="none" stroke="#50f070" stroke-width="9" stroke-linejoin="round" stroke-linecap="butt"/>
<polyline points="59.2,375.4 68.1,371.6 80.8,374.1 91.0,376.7 98.6,380.5" fill="none" stroke="#50f070" stroke-width="3" stroke-linejoin="round" stroke-linecap="butt"/>
<polyline points="167.0,465.0 170.2,453.7 176.5,442.3 185.4,441.0 195.6,437.2 198.1,438.5 199.4,449.9 207.0,458.8 218.4,469.0 228.6,474.0 236.2,474.6 246.3,471.5 252.7,470.2 257.8,472.8 261.6,469.5 271.7,472.0 281.9,471.0 288.3,467.7 291.3,461.3 294.6,470.2 298.4,475.3 307.3,477.9 324.1,478.6 335.6,476.6 343.2,472.8 349.5,466.4 359.7,462.6" fill="none" stroke="#50f070" stroke-width="5" stroke-linejoin="round" stroke-linecap="butt"/>
</g>
<polygon points="543.0,4.0 552.0,60.0 551.7,61.0 561.9,61.0 564.4,65.5 572.0,65.5 578.0,68.6 578.0,4.0" fill="#fff0c8" shape-rendering="crispEdges"/>
<polygon points="340.0,482.5 340.0,481.5 373.0,480.5 406.0,479.0 440.0,476.5 460.0,474.5 480.0,472.8 578.0,460.9 578.0,482.5" fill="#fff0c8" shape-rendering="crispEdges"/>
<polygon points="342.0,4.0 390.0,4.0 390.0,5.5 342.0,6.5" fill="#fff0c8" shape-rendering="crispEdges"/>
<line x1="543" y1="4" x2="552" y2="60" stroke="#1e90ff" stroke-width="1.2" stroke-dasharray="3,2"/>
<polygon points="342.0,4.0 341.3,17.5 346.5,23.0 340.9,23.6 340.6,25.0 339.4,38.0 336.8,63.5 335.9,70.3 332.0,79.2 324.4,83.0 311.7,84.3 301.6,84.3 292.7,80.5 286.3,81.7 276.2,84.3 266.0,79.2 257.1,79.2 248.3,81.7 230.5,84.3 212.7,79.2 209.8,75.4 197.1,74.9 190.8,70.3 181.9,74.1 171.7,74.1 161.6,72.9 148.9,74.1 142.5,71.6 136.2,66.5 129.8,62.7 122.2,61.4 115.0,66.0 108.0,71.0 106.0,75.0 109.5,73.5 108.0,79.0 101.0,80.0 95.0,81.0 89.0,80.0 85.0,82.0 78.0,85.0 75.0,88.0 73.0,92.0 73.0,98.0 77.0,102.0 80.0,106.0 79.0,112.0 83.5,110.5 88.0,109.0 82.5,115.0 83.0,119.0 87.5,117.5 92.0,116.0 86.0,122.0 84.0,125.0 88.5,124.5 93.0,123.0 87.0,129.0 84.0,132.0 85.0,134.0 83.0,139.0 82.0,149.0 81.6,151.6 83.3,160.0 84.6,175.2 87.1,184.1 84.6,195.6 84.6,203.2 79.5,214.6 75.7,226.0 74.4,234.9 69.4,246.3 63.0,257.8 55.4,265.4 52.9,276.8 50.3,280.2 46.5,291.6 49.0,295.4 59.2,294.1 65.6,287.8 67.0,293.0 60.0,299.0 55.5,300.0 56.7,306.8 65.6,308.1 70.6,313.2 70.6,323.3 66.8,331.0 69.4,337.3 68.1,353.8 64.3,364.0 59.2,375.4 68.1,371.6 80.8,374.1 91.0,376.7 98.6,380.5 106.2,375.4 113.8,372.9 120.2,372.4 134.1,372.4 144.3,376.7 153.0,384.4 158.1,393.3 156.8,398.4 160.6,404.8 164.4,409.8 168.3,416.2 174.6,423.8 181.0,428.9 187.3,432.7 192.4,430.2 197.5,425.1 201.3,416.2 208.9,412.4 220.3,409.8 229.2,406.0 235.6,398.9 247.0,397.9 259.7,396.4 267.6,397.8 275.2,395.2 288.0,396.5 298.0,399.0 304.4,396.5 312.0,392.7 319.7,395.2 324.8,396.5 328.6,390.2 333.6,383.8 334.9,374.9 340.0,367.3 346.3,361.0 355.2,355.9 369.2,354.6 375.6,352.0 376.8,347.0 373.0,338.1 378.1,327.9 381.9,320.3 383.5,319.4 386.0,313.0 391.1,309.2 397.5,305.4 403.8,300.3 408.9,295.2 405.1,291.4 396.2,287.6 391.1,278.7 387.3,269.8 386.0,261.0 389.8,249.5 396.2,240.6 401.3,230.5 407.6,219.0 412.0,214.3 414.6,207.9 421.0,205.4 424.8,201.6 419.7,197.8 423.5,191.4 428.6,185.0 438.7,180.0 448.9,174.9 461.6,169.8 469.2,162.2 476.8,153.3 487.0,147.0 494.6,141.9 499.7,135.6 498.4,127.9 495.9,121.6 499.7,120.3 501.0,117.8 497.1,114.0 490.8,110.2 489.5,101.6 487.0,94.0 489.5,82.5 494.6,74.9 501.0,72.4 507.3,67.3 513.6,61.0 520.0,57.9 526.3,60.4 536.5,59.7 539.0,62.2 545.4,62.2 549.2,58.4 551.7,61.0 561.9,61.0 564.4,65.5 572.0,65.5 580.0,68.6 580.0,2.0 342.0,2.0" fill="none" stroke="#a41808" stroke-width="1" stroke-linejoin="round" shape-rendering="crispEdges"/>
<polygon points="160.0,485.0 167.0,465.0 170.2,453.7 176.5,442.3 185.4,441.0 195.6,437.2 198.1,438.5 199.4,449.9 207.0,458.8 218.4,469.0 228.6,474.0 236.2,474.6 246.3,471.5 252.7,470.2 257.8,472.8 261.6,469.5 271.7,472.0 281.9,471.0 288.3,467.7 291.3,461.3 294.6,470.2 298.4,475.3 307.3,477.9 310.2,477.9 315.2,475.3 324.1,478.6 335.6,476.6 343.2,472.8 349.5,466.4 359.7,462.6 363.5,452.5 369.8,446.1 377.5,442.3 383.8,443.6 391.4,436.0 397.8,435.4 404.1,439.0 409.2,437.2 414.3,427.1 424.4,416.9 437.1,409.3 444.8,402.9 447.6,401.7 460.3,396.6 475.6,394.0 490.8,391.5 503.5,390.2 513.7,385.2 522.5,377.5 528.9,380.0 540.3,377.5 546.7,375.0 560.0,370.0 580.0,366.0 580.0,485.0" fill="none" stroke="#a41808" stroke-width="1" stroke-linejoin="round" shape-rendering="crispEdges"/>
<polygon points="482.2,248.4 488.6,242.1 494.9,235.7 502.5,230.6 507.6,229.4 510.9,227.6 511.4,233.2 515.2,237.7 519.0,235.2 522.9,237.0 521.6,244.6 517.8,252.2 512.7,257.3 508.9,259.8 503.8,255.5 498.7,256.5 494.9,249.7 488.6,253.0 483.5,251.0" fill="none" stroke="#a41808" stroke-width="1" stroke-linejoin="round" shape-rendering="crispEdges"/>
<polygon points="532.5,220.5 539.4,218.4 544.4,217.4 549.5,221.0 552.1,225.6 550.8,229.4 545.7,227.6 539.4,225.0 534.3,225.6" fill="none" stroke="#a41808" stroke-width="1" stroke-linejoin="round" shape-rendering="crispEdges"/>
<polygon points="444.6,281.4 447.9,276.3 454.3,273.3 458.6,276.3 456.8,281.9 451.7,286.5 446.7,286.5" fill="none" stroke="#a41808" stroke-width="1" stroke-linejoin="round" shape-rendering="crispEdges"/>
<polygon points="451.7,291.6 454.3,294.1 459.4,293.6 459.4,295.0 453.5,296.0 451.7,296.7" fill="none" stroke="#a41808" stroke-width="1" stroke-linejoin="round" shape-rendering="crispEdges"/>
<polygon points="505.5,265.5 507.2,265.5 507.2,267.2 505.5,267.2" fill="none" stroke="#a41808" stroke-width="1" stroke-linejoin="round" shape-rendering="crispEdges"/>
<polyline points="128.1,63.6 126.2,74.0 121.4,80.7 118.6,86.4 119.5,95.0 117.6,102.6" fill="none" stroke="#a41808" stroke-width="1" stroke-linejoin="round" shape-rendering="crispEdges"/>
<polyline points="117.6,102.6 110.0,103.6 102.4,105.5 92.9,108.3 86.2,112.1 81.4,116.0" fill="none" stroke="#a41808" stroke-width="1" stroke-linejoin="round" shape-rendering="crispEdges"/>
<polyline points="117.6,102.6 118.6,110.2 117.9,116.7 122.6,122.4 130.2,125.2 137.9,124.3 142.6,129.0 146.4,123.3 147.1,117.9" fill="none" stroke="#a41808" stroke-width="1" stroke-linejoin="round" shape-rendering="crispEdges"/>
<polyline points="149.0,74.0 145.2,78.8 147.1,85.5 153.8,93.1 151.0,99.8 153.8,103.6 150.0,110.2 147.1,117.9 151.2,121.4 155.0,126.2 156.9,133.8" fill="none" stroke="#a41808" stroke-width="1" stroke-linejoin="round" shape-rendering="crispEdges"/>
<polyline points="117.9,116.7 111.0,116.9 103.6,118.6 102.6,121.4 104.5,127.1 106.4,135.7 110.2,140.5 105.5,146.2 107.4,151.0 116.0,148.0 126.4,150.0 136.0,151.0 141.7,147.1 147.4,146.2 149.3,138.6 156.9,133.8" fill="none" stroke="#a41808" stroke-width="1" stroke-linejoin="round" shape-rendering="crispEdges"/>
<polyline points="82.6,148.0 86.4,142.4 94.0,138.6 106.4,135.7" fill="none" stroke="#a41808" stroke-width="1" stroke-linejoin="round" shape-rendering="crispEdges"/>
<polyline points="153.8,102.0 156.5,103.3 169.2,99.5 176.8,97.0 187.0,100.8 192.6,100.5 200.2,97.6 209.8,95.7 217.4,92.9 223.1,90.0" fill="none" stroke="#a41808" stroke-width="1" stroke-linejoin="round" shape-rendering="crispEdges"/>
<polyline points="223.1,90.0 231.7,88.1 233.6,83.3" fill="none" stroke="#a41808" stroke-width="1" stroke-linejoin="round" shape-rendering="crispEdges"/>
<polyline points="223.1,90.0 225.0,97.6 232.6,99.5 240.2,98.6 246.0,102.4 250.7,105.2 253.6,100.5 261.2,95.7 268.8,92.9 276.4,89.0 284.0,84.3 288.8,81.4" fill="none" stroke="#a41808" stroke-width="1" stroke-linejoin="round" shape-rendering="crispEdges"/>
<polyline points="225.0,97.6 221.2,108.1 220.2,119.5 219.3,129.0 216.4,134.8" fill="none" stroke="#a41808" stroke-width="1" stroke-linejoin="round" shape-rendering="crispEdges"/>
<polyline points="216.4,134.8 218.3,146.2 223.1,152.9 230.7,154.8 235.5,158.6 242.1,156.7 250.7,154.8" fill="none" stroke="#a41808" stroke-width="1" stroke-linejoin="round" shape-rendering="crispEdges"/>
<polyline points="216.4,134.8 209.8,133.8 204.0,137.6 204.0,146.2 200.2,146.2 194.5,141.4 185.5,140.5 176.0,138.6 166.4,135.7 156.9,133.8" fill="none" stroke="#a41808" stroke-width="1" stroke-linejoin="round" shape-rendering="crispEdges"/>
<polyline points="204.0,146.2 206.9,151.9 205.7,150.0 202.9,155.7 204.8,161.4 207.6,169.0 204.8,178.6 205.7,185.2" fill="none" stroke="#a41808" stroke-width="1" stroke-linejoin="round" shape-rendering="crispEdges"/>
<polyline points="240.2,98.6 242.1,104.3 247.9,111.0 242.1,115.7 241.2,125.2 244.0,136.7 249.8,144.3 253.6,150.0 250.7,154.8 249.5,161.4 250.5,169.0" fill="none" stroke="#a41808" stroke-width="1" stroke-linejoin="round" shape-rendering="crispEdges"/>
<polyline points="276.4,89.0 270.7,93.8 278.3,92.9 285.0,93.8 284.0,100.5 280.2,106.2 276.4,107.1 280.2,111.0 287.9,115.7 284.0,119.5 282.1,127.1 283.1,136.7 288.8,143.3 295.5,144.3 299.5,145.2 307.1,140.5 312.9,143.3 318.6,150.0 323.3,148.1" fill="none" stroke="#a41808" stroke-width="1" stroke-linejoin="round" shape-rendering="crispEdges"/>
<polyline points="288.8,143.3 284.0,151.9 276.4,159.5 275.7,155.7 271.0,161.4 272.9,169.0" fill="none" stroke="#a41808" stroke-width="1" stroke-linejoin="round" shape-rendering="crispEdges"/>
<polyline points="287.9,115.7 295.7,119.5 304.3,120.5 311.0,125.2 318.6,129.0 326.2,134.8 331.0,138.6 325.2,142.4 323.3,148.1 326.2,153.8 328.1,159.5 322.4,167.1 323.3,172.9 316.7,174.8 315.7,182.4 320.5,187.1" fill="none" stroke="#a41808" stroke-width="1" stroke-linejoin="round" shape-rendering="crispEdges"/>
<polyline points="285.0,93.8 291.7,98.6 297.6,98.6 301.4,92.9 304.3,86.2" fill="none" stroke="#a41808" stroke-width="1" stroke-linejoin="round" shape-rendering="crispEdges"/>
<polyline points="297.6,98.6 303.3,101.4 311.0,104.3 316.7,100.5 320.5,92.9 325.2,88.1 326.2,84.3" fill="none" stroke="#a41808" stroke-width="1" stroke-linejoin="round" shape-rendering="crispEdges"/>
<polyline points="311.0,104.3 309.0,111.9 309.0,117.6 304.3,120.5" fill="none" stroke="#a41808" stroke-width="1" stroke-linejoin="round" shape-rendering="crispEdges"/>
<polyline points="326.2,84.3 330.0,87.1 335.7,87.1 338.6,91.0 340.5,96.7 343.3,94.8 349.0,99.5 354.8,101.4 360.5,103.3 366.2,106.2 373.8,105.2 381.4,107.1 385.2,111.0 392.9,110.0 402.6,108.8 409.3,106.9 410.2,102.1 417.9,104.0 425.5,105.0 433.1,108.8 440.7,111.7 446.4,115.5 447.4,122.1 454.0,123.1 456.9,119.3 458.8,118.3 461.7,116.4 471.2,116.4 478.8,114.5 486.4,111.7 492.1,110.7 497.9,116.4" fill="none" stroke="#a41808" stroke-width="1" stroke-linejoin="round" shape-rendering="crispEdges"/>
<polyline points="446.4,115.5 450.2,114.5 456.0,115.5 458.8,118.3" fill="none" stroke="#a41808" stroke-width="1" stroke-linejoin="round" shape-rendering="crispEdges"/>
<polyline points="360.5,103.3 356.7,111.0 351.9,115.7 347.1,117.6 343.3,123.3 341.4,129.0 340.5,136.7 343.3,143.3 340.5,149.0 334.8,150.0 328.0,147.0 325.2,142.4" fill="none" stroke="#a41808" stroke-width="1" stroke-linejoin="round" shape-rendering="crispEdges"/>
<polyline points="356.7,111.0 357.6,119.5 360.5,127.1 363.3,131.0 361.4,138.6 359.5,143.3 366.2,148.1 371.9,153.8 375.7,158.6 383.3,161.9 387.1,167.6 391.0,173.3 396.7,170.5 402.4,169.5 405.2,174.3" fill="none" stroke="#a41808" stroke-width="1" stroke-linejoin="round" shape-rendering="crispEdges"/>
<polyline points="409.3,106.9 412.1,113.6 414.0,123.1 413.1,132.6 411.2,142.1 406.4,149.8 402.6,157.4 402.4,169.5" fill="none" stroke="#a41808" stroke-width="1" stroke-linejoin="round" shape-rendering="crispEdges"/>
<polyline points="447.4,122.1 448.3,130.7 446.4,142.1 440.7,147.9 438.8,157.4 441.7,165.0 445.5,172.6 448.3,176.4" fill="none" stroke="#a41808" stroke-width="1" stroke-linejoin="round" shape-rendering="crispEdges"/>
<polyline points="458.8,118.3 457.9,126.9 463.6,130.7 470.2,129.8 474.0,133.6 473.1,140.2 470.2,142.1 476.9,146.9 486.4,146.0 494.0,142.1" fill="none" stroke="#a41808" stroke-width="1" stroke-linejoin="round" shape-rendering="crispEdges"/>
<polyline points="405.2,174.3 413.8,172.4 423.6,170.7 428.3,165.0 436.0,159.3 438.8,157.4" fill="none" stroke="#a41808" stroke-width="1" stroke-linejoin="round" shape-rendering="crispEdges"/>
<polyline points="147.4,146.2 155.0,147.1 162.6,150.0 161.7,159.5 171.4,162.4 174.3,167.1 168.6,174.8 164.8,179.5 155.2,183.3 151.4,190.0 147.6,191.0 150.5,201.4 148.6,212.9 151.4,222.4 147.6,227.1 141.9,228.1 143.8,237.6 146.2,235.0 145.2,244.5 142.4,248.3 141.4,254.0 121.4,253.1 127.1,261.7 131.0,271.2 135.7,278.8 141.4,282.6 138.6,290.2 132.9,296.0 129.0,301.7 127.1,311.2 131.0,320.7 134.8,326.4 140.5,323.8 134.8,331.4 127.1,337.1 121.4,344.8 116.7,354.3 118.6,363.8 118.6,373.3" fill="none" stroke="#a41808" stroke-width="1" stroke-linejoin="round" shape-rendering="crispEdges"/>
<polyline points="164.8,179.5 174.3,182.4 180.0,186.2 184.8,182.4 193.3,183.3 201.0,185.2 205.7,185.2 212.4,187.1 218.1,186.2 222.9,189.0 225.7,187.1 229.5,184.3 233.3,178.6 234.3,174.8 242.9,171.9 250.5,169.0 257.6,170.0 265.2,167.1 272.9,169.0 275.7,176.7 278.6,180.5" fill="none" stroke="#a41808" stroke-width="1" stroke-linejoin="round" shape-rendering="crispEdges"/>
<polyline points="212.4,187.1 212.4,193.8 210.5,201.4 204.8,207.1 199.0,214.8 193.3,220.5 190.5,226.2" fill="none" stroke="#a41808" stroke-width="1" stroke-linejoin="round" shape-rendering="crispEdges"/>
<polyline points="225.7,187.1 229.5,193.8 233.3,201.4 237.1,211.0 242.9,211.0" fill="none" stroke="#a41808" stroke-width="1" stroke-linejoin="round" shape-rendering="crispEdges"/>
<polyline points="242.9,211.0 246.7,207.1 252.4,201.4 256.2,195.7 259.5,193.8 265.2,190.0 271.0,184.3 278.6,180.5" fill="none" stroke="#a41808" stroke-width="1" stroke-linejoin="round" shape-rendering="crispEdges"/>
<polyline points="242.9,211.0 240.0,220.5 235.2,226.2 231.4,227.1" fill="none" stroke="#a41808" stroke-width="1" stroke-linejoin="round" shape-rendering="crispEdges"/>
<polyline points="151.4,222.4 161.0,224.3 168.6,218.6 174.3,217.6 180.0,224.3 185.7,226.2 190.5,226.2 197.1,231.0 202.9,231.9 208.6,235.7 216.2,231.9 221.9,228.1 231.4,227.1 237.1,226.2 241.0,230.0 246.7,228.1 254.3,231.9 257.6,235.7 265.2,239.5 272.9,237.6 280.5,238.6 284.3,235.7" fill="none" stroke="#a41808" stroke-width="1" stroke-linejoin="round" shape-rendering="crispEdges"/>
<polyline points="278.6,180.5 290.0,179.5 299.5,183.3 307.1,190.0 314.8,189.0 320.5,187.1 326.2,188.1 331.9,193.8 335.7,195.7 341.4,190.5 349.0,186.7 354.8,184.8 360.5,186.7 366.2,182.9 371.0,175.2 373.8,175.2 375.7,179.0 385.2,182.9 392.9,186.7 399.5,184.8 404.3,178.1 405.2,174.3" fill="none" stroke="#a41808" stroke-width="1" stroke-linejoin="round" shape-rendering="crispEdges"/>
<polyline points="335.7,195.7 338.6,203.3 337.6,212.9 333.8,218.6 330.0,221.4 324.3,214.8 316.7,210.0 309.0,212.9 304.3,216.7 300.5,220.5 294.8,222.4 292.9,230.0 288.1,233.8 284.3,235.7" fill="none" stroke="#a41808" stroke-width="1" stroke-linejoin="round" shape-rendering="crispEdges"/>
<polyline points="330.0,221.4 335.7,228.1 343.3,233.8 349.0,237.6 354.8,240.0" fill="none" stroke="#a41808" stroke-width="1" stroke-linejoin="round" shape-rendering="crispEdges"/>
<polyline points="265.2,190.0 270.0,197.6 271.0,207.1 276.7,214.8 280.5,222.4 281.4,230.0 284.3,235.7" fill="none" stroke="#a41808" stroke-width="1" stroke-linejoin="round" shape-rendering="crispEdges"/>
<polyline points="265.2,239.5 261.9,242.6 256.2,245.5" fill="none" stroke="#a41808" stroke-width="1" stroke-linejoin="round" shape-rendering="crispEdges"/>
<polyline points="282.9,236.9 282.9,244.5 287.6,254.0 290.5,260.7 290.5,267.4" fill="none" stroke="#a41808" stroke-width="1" stroke-linejoin="round" shape-rendering="crispEdges"/>
<polyline points="290.5,267.4 282.9,265.5 276.2,268.3 271.4,272.1 265.7,275.0 258.1,276.0 252.4,273.1 246.7,271.2 246.7,265.5 249.5,262.6 244.8,262.6 242.9,265.5 235.2,266.4 231.4,262.6 226.7,268.3 220.5,262.6 214.8,270.2" fill="none" stroke="#a41808" stroke-width="1" stroke-linejoin="round" shape-rendering="crispEdges"/>
<polyline points="290.5,267.4 296.2,273.1 303.8,273.1 311.4,276.0 319.0,274.0 326.7,273.1 334.3,272.9 341.9,267.1" fill="none" stroke="#a41808" stroke-width="1" stroke-linejoin="round" shape-rendering="crispEdges"/>
<polyline points="354.8,240.0 352.9,245.7 347.6,250.0 343.8,257.6 341.9,267.1 349.5,270.0 355.2,271.0 355.2,278.6 352.4,284.3 357.1,290.0 362.9,289.0 365.7,295.7 365.7,301.4" fill="none" stroke="#a41808" stroke-width="1" stroke-linejoin="round" shape-rendering="crispEdges"/>
<polyline points="399.5,184.8 402.4,190.5 401.4,198.1 400.5,201.0 394.8,202.9 387.1,200.0 381.4,205.7 384.3,211.4 383.3,219.0 377.6,226.7 373.8,234.3 368.1,238.1 362.4,241.9 354.8,240.0" fill="none" stroke="#a41808" stroke-width="1" stroke-linejoin="round" shape-rendering="crispEdges"/>
<polyline points="400.5,201.0 405.2,205.7 411.9,210.5" fill="none" stroke="#a41808" stroke-width="1" stroke-linejoin="round" shape-rendering="crispEdges"/>
<polyline points="368.1,238.1 370.0,243.8 375.7,248.6 383.3,247.6 389.0,249.5" fill="none" stroke="#a41808" stroke-width="1" stroke-linejoin="round" shape-rendering="crispEdges"/>
<polyline points="365.7,295.7 372.4,297.6 378.1,298.6 381.9,294.8 387.6,292.9 393.3,291.0 398.1,290.0" fill="none" stroke="#a41808" stroke-width="1" stroke-linejoin="round" shape-rendering="crispEdges"/>
<polyline points="365.7,301.4 361.9,307.1 361.0,314.8 363.8,322.4 365.7,328.1 369.5,335.7 373.3,345.0" fill="none" stroke="#a41808" stroke-width="1" stroke-linejoin="round" shape-rendering="crispEdges"/>
<polyline points="365.7,301.4 357.1,298.6 350.5,302.4 345.7,307.1 344.8,314.8 340.0,319.5 334.3,317.6 326.7,321.9 319.0,327.6 315.2,335.2" fill="none" stroke="#a41808" stroke-width="1" stroke-linejoin="round" shape-rendering="crispEdges"/>
<polyline points="202.9,231.9 201.4,246.4 207.1,252.1 209.0,261.7 214.8,270.2" fill="none" stroke="#a41808" stroke-width="1" stroke-linejoin="round" shape-rendering="crispEdges"/>
<polyline points="131.0,271.2 138.6,266.4 146.2,268.3 151.0,273.1 155.7,278.8 165.2,279.8 171.0,285.5 176.7,282.6 186.2,281.7 191.9,280.7 199.5,279.8 203.3,273.1 214.8,270.2" fill="none" stroke="#a41808" stroke-width="1" stroke-linejoin="round" shape-rendering="crispEdges"/>
<polyline points="226.7,268.3 224.3,278.8 218.6,282.6 215.7,290.2 217.6,296.0 213.8,301.7" fill="none" stroke="#a41808" stroke-width="1" stroke-linejoin="round" shape-rendering="crispEdges"/>
<polyline points="213.8,301.7 205.2,305.5 197.6,311.2 191.9,318.8 193.8,326.4 192.9,328.6" fill="none" stroke="#a41808" stroke-width="1" stroke-linejoin="round" shape-rendering="crispEdges"/>
<polyline points="213.8,301.7 220.5,307.4 227.6,311.2 235.2,316.9 241.0,318.8" fill="none" stroke="#a41808" stroke-width="1" stroke-linejoin="round" shape-rendering="crispEdges"/>
<polyline points="296.2,273.1 293.3,282.6 293.3,290.2 298.1,296.0 301.0,301.7 298.1,307.4 298.1,312.1" fill="none" stroke="#a41808" stroke-width="1" stroke-linejoin="round" shape-rendering="crispEdges"/>
<polyline points="298.1,312.1 290.5,315.0 282.9,314.0 275.2,315.0 267.6,316.9 258.1,317.9 248.6,318.8 241.0,318.8" fill="none" stroke="#a41808" stroke-width="1" stroke-linejoin="round" shape-rendering="crispEdges"/>
<polyline points="241.0,318.8 243.8,327.6 240.0,337.1 242.9,348.6 243.8,358.1 249.5,365.7" fill="none" stroke="#a41808" stroke-width="1" stroke-linejoin="round" shape-rendering="crispEdges"/>
<polyline points="298.1,312.1 303.8,313.1 307.6,320.7 309.5,327.0 307.6,331.4" fill="none" stroke="#a41808" stroke-width="1" stroke-linejoin="round" shape-rendering="crispEdges"/>
<polyline points="140.5,323.8 145.2,327.6 155.7,333.3 161.4,333.3 167.1,338.1 176.7,335.2 181.4,328.6 186.2,326.7 188.1,330.5 192.9,328.6" fill="none" stroke="#a41808" stroke-width="1" stroke-linejoin="round" shape-rendering="crispEdges"/>
<polyline points="167.1,338.1 170.0,342.9 165.2,346.7 156.7,349.5 154.8,352.4 159.5,358.1 161.4,365.7 160.5,375.2 158.6,384.8 157.6,392.4" fill="none" stroke="#a41808" stroke-width="1" stroke-linejoin="round" shape-rendering="crispEdges"/>
<polyline points="192.9,328.6 197.6,341.0 200.5,348.6 197.6,354.3 203.3,355.2 209.0,352.4 213.8,351.4 216.7,358.1 220.5,365.7 225.2,370.5" fill="none" stroke="#a41808" stroke-width="1" stroke-linejoin="round" shape-rendering="crispEdges"/>
<polyline points="225.2,370.5 221.4,376.2 214.8,377.1 209.0,384.8 205.2,388.6 200.5,384.8 194.8,386.7 193.8,382.9 188.1,387.6 178.6,390.5 172.9,391.4 165.2,389.5 159.5,388.6" fill="none" stroke="#a41808" stroke-width="1" stroke-linejoin="round" shape-rendering="crispEdges"/>
<polyline points="209.0,384.8 207.1,391.4 200.5,393.3 199.5,400.0 193.8,405.7 189.0,407.6 191.9,409.5 197.6,415.0 199.0,418.0" fill="none" stroke="#a41808" stroke-width="1" stroke-linejoin="round" shape-rendering="crispEdges"/>
<polyline points="225.2,370.5 229.5,374.3 235.2,371.4 240.0,375.2 242.9,368.6 249.5,365.7" fill="none" stroke="#a41808" stroke-width="1" stroke-linejoin="round" shape-rendering="crispEdges"/>
<polyline points="240.0,375.2 242.9,384.8 250.5,390.5 258.1,393.3 261.0,398.1" fill="none" stroke="#a41808" stroke-width="1" stroke-linejoin="round" shape-rendering="crispEdges"/>
<polyline points="249.5,365.7 255.2,366.7 261.0,361.9 268.6,358.1 275.2,356.2 281.0,354.3 289.5,355.2 293.3,348.6 296.2,341.0 303.8,335.2 307.6,331.4 315.2,335.2 318.1,341.0 322.9,341.9 328.6,342.9 327.6,348.6 332.4,358.1 340.0,364.8 344.0,363.0" fill="none" stroke="#a41808" stroke-width="1" stroke-linejoin="round" shape-rendering="crispEdges"/>
<polyline points="318.1,341.0 313.3,352.4 309.5,360.0 303.8,365.7 301.9,373.3 294.3,374.3 293.3,379.0 289.5,381.9 290.5,388.6 287.6,396.2" fill="none" stroke="#a41808" stroke-width="1" stroke-linejoin="round" shape-rendering="crispEdges"/>
</g>
<rect x="29.5" y="4.5" width="548" height="477" fill="none" stroke="#ffffff" stroke-opacity="0.6" stroke-width="1" shape-rendering="crispEdges"/>
<rect x="29" y="464" width="161" height="18" fill="#ffffff"/>
<circle cx="38.5" cy="472.5" r="5.3" fill="none" stroke="#2f5ccc" stroke-width="1"/>
<text x="36" y="475.6" font-family="Liberation Sans, sans-serif" font-size="8.5" fill="#2f5ccc">C</text>
<text x="48" y="476" font-family="Liberation Sans, sans-serif" font-size="10.5" fill="#2f5ccc" textLength="138" lengthAdjust="spacingAndGlyphs">Agencia Estatal de Meteorolog&#237;a</text>
<text x="511.7" y="472" font-family="Liberation Sans, sans-serif" font-weight="bold" font-size="18" fill="#ffffff" fill-opacity="0.92" textLength="61" lengthAdjust="spacingAndGlyphs">aemet</text>
<g fill="none" stroke="#ffffff" stroke-linecap="round"><path d="M486.8,459.6 Q491,456.6 496.6,458.8 Q500.6,461 503,465.6" stroke-width="1.7"/><path d="M498,458.7 L505.4,462.3" stroke-width="1.2"/><path d="M504,458.4 L507.8,459.8" stroke-width="1.2"/><ellipse cx="494.3" cy="464.8" rx="3.7" ry="3" transform="rotate(25 494.3 464.8)" stroke-width="1"/><ellipse cx="494.3" cy="464.8" rx="1.4" ry="1.1" transform="rotate(25 494.3 464.8)" stroke-width="0.9"/><path d="M490.3,468.8 Q496.5,471.2 503,468.3" stroke-width="1.1"/><path d="M491.5,472.4 Q495,473.2 499.2,471.8" stroke-width="0.9" stroke-opacity="0.85"/><circle cx="506.5" cy="465.8" r="0.6" fill="#fff" stroke="none"/><circle cx="487.8" cy="473.8" r="0.7" fill="#fff" stroke="none"/></g>
<text x="406.3" y="492.2" font-family="Liberation Sans, sans-serif" font-weight="bold" font-size="8.5" fill="#ffff00" textLength="8.2" lengthAdjust="spacingAndGlyphs">0&#176;</text>
<g shape-rendering="crispEdges">
<rect x="583" y="12.00" width="18" height="14.75" fill="#8b3a10"/>
<rect x="583" y="26.45" width="18" height="14.75" fill="#a03030"/>
<rect x="583" y="40.90" width="18" height="14.75" fill="#b03050"/>
<rect x="583" y="55.35" width="18" height="14.75" fill="#cc3070"/>
<rect x="583" y="69.80" width="18" height="14.75" fill="#e03090"/>
<rect x="583" y="84.25" width="18" height="14.75" fill="#ff30b0"/>
<rect x="583" y="98.70" width="18" height="14.75" fill="#ff0000"/>
<rect x="583" y="113.15" width="18" height="14.75" fill="#ff7f00"/>
<rect x="583" y="127.60" width="18" height="14.75" fill="#ff9f00"/>
<rect x="583" y="142.05" width="18" height="14.75" fill="#ffb400"/>
<rect x="583" y="156.50" width="18" height="14.75" fill="#ffd200"/>
<rect x="583" y="170.95" width="18" height="14.75" fill="#ffff00"/>
<rect x="583" y="185.40" width="18" height="14.75" fill="#c8f000"/>
<rect x="583" y="199.85" width="18" height="14.75" fill="#50f070"/>
<rect x="583" y="214.30" width="18" height="14.75" fill="#20b2aa"/>
<rect x="583" y="228.75" width="18" height="14.75" fill="#18c8c2"/>
<rect x="583" y="243.20" width="18" height="14.75" fill="#10d8d2"/>
<rect x="583" y="257.65" width="18" height="14.75" fill="#00e8e8"/>
<rect x="583" y="272.10" width="18" height="14.75" fill="#1e90ff"/>
<rect x="583" y="286.55" width="18" height="14.75" fill="#1c74dc"/>
<rect x="583" y="301.00" width="18" height="14.75" fill="#1c54b4"/>
<rect x="583" y="315.45" width="18" height="14.75" fill="#1c3490"/>
<rect x="583" y="329.90" width="18" height="14.75" fill="#191970"/>
<rect x="583" y="359.00" width="18" height="14.75" fill="#e0c8f0"/>
<rect x="583" y="373.45" width="18" height="14.75" fill="#c090e8"/>
<rect x="583" y="387.90" width="18" height="14.75" fill="#a060e0"/>
<rect x="583" y="402.35" width="18" height="14.75" fill="#8030e0"/>
<rect x="583" y="416.80" width="18" height="14.75" fill="#d02080"/>
<rect x="583" y="431.25" width="18" height="14.75" fill="#b02880"/>
<rect x="583" y="445.70" width="18" height="14.75" fill="#983088"/>
<rect x="583" y="460.15" width="18" height="14.45" fill="#783890"/>
</g>
<g font-family="Liberation Sans, sans-serif" font-size="14" fill="#0000ff">
<text x="603.5" y="18.00" textLength="12.8" lengthAdjust="spacingAndGlyphs">50</text>
<text x="603.5" y="32.45" textLength="12.8" lengthAdjust="spacingAndGlyphs">44</text>
<text x="603.5" y="46.90" textLength="12.8" lengthAdjust="spacingAndGlyphs">42</text>
<text x="603.5" y="61.35" textLength="12.8" lengthAdjust="spacingAndGlyphs">40</text>
<text x="603.5" y="75.80" textLength="12.8" lengthAdjust="spacingAndGlyphs">38</text>
<text x="603.5" y="90.25" textLength="12.8" lengthAdjust="spacingAndGlyphs">36</text>
<text x="603.5" y="104.70" textLength="12.8" lengthAdjust="spacingAndGlyphs">34</text>
<text x="603.5" y="119.15" textLength="12.8" lengthAdjust="spacingAndGlyphs">32</text>
<text x="603.5" y="133.60" textLength="12.8" lengthAdjust="spacingAndGlyphs">30</text>
<text x="603.5" y="148.05" textLength="12.8" lengthAdjust="spacingAndGlyphs">28</text>
<text x="603.5" y="162.50" textLength="12.8" lengthAdjust="spacingAndGlyphs">26</text>
<text x="603.5" y="176.95" textLength="12.8" lengthAdjust="spacingAndGlyphs">24</text>
<text x="603.5" y="191.40" textLength="12.8" lengthAdjust="spacingAndGlyphs">22</text>
<text x="603.5" y="205.85" textLength="12.8" lengthAdjust="spacingAndGlyphs">20</text>
<text x="603.5" y="220.30" textLength="12.8" lengthAdjust="spacingAndGlyphs">18</text>
<text x="603.5" y="234.75" textLength="12.8" lengthAdjust="spacingAndGlyphs">16</text>
<text x="603.5" y="249.20" textLength="12.8" lengthAdjust="spacingAndGlyphs">14</text>
<text x="603.5" y="263.65" textLength="12.8" lengthAdjust="spacingAndGlyphs">12</text>
<text x="603.5" y="278.10" textLength="12.8" lengthAdjust="spacingAndGlyphs">10</text>
<text x="603.5" y="292.55" textLength="6.4" lengthAdjust="spacingAndGlyphs">8</text>
<text x="603.5" y="307.00" textLength="6.4" lengthAdjust="spacingAndGlyphs">6</text>
<text x="603.5" y="321.45" textLength="6.4" lengthAdjust="spacingAndGlyphs">4</text>
<text x="603.5" y="335.90" textLength="6.4" lengthAdjust="spacingAndGlyphs">2</text>
<text x="603.5" y="350.35" textLength="6.4" lengthAdjust="spacingAndGlyphs">0</text>
<text x="603" y="365.00" textLength="10.9" lengthAdjust="spacingAndGlyphs">-2</text>
<text x="603" y="379.45" textLength="10.9" lengthAdjust="spacingAndGlyphs">-4</text>
<text x="603" y="393.90" textLength="10.9" lengthAdjust="spacingAndGlyphs">-6</text>
<text x="603" y="408.35" textLength="10.9" lengthAdjust="spacingAndGlyphs">-8</text>
<text x="603" y="422.80" textLength="17.3" lengthAdjust="spacingAndGlyphs">-10</text>
<text x="603" y="437.25" textLength="17.3" lengthAdjust="spacingAndGlyphs">-15</text>
<text x="603" y="451.70" textLength="17.3" lengthAdjust="spacingAndGlyphs">-20</text>
<text x="603" y="466.15" textLength="17.3" lengthAdjust="spacingAndGlyphs">-25</text>
<text x="603" y="480.60" textLength="17.3" lengthAdjust="spacingAndGlyphs">-30</text>
</g>
</svg>
</body></html>
